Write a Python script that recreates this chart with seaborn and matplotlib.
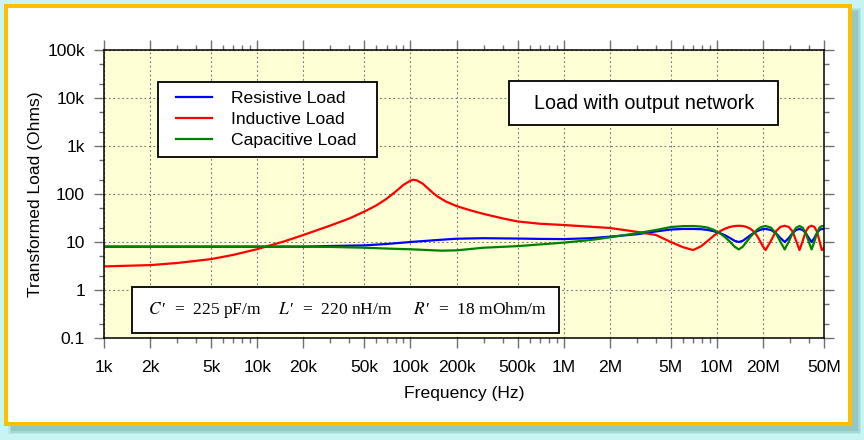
import matplotlib
matplotlib.use("Agg")
import matplotlib.pyplot as plt
import seaborn as sns
import pandas as pd
from matplotlib.patches import Rectangle
from matplotlib.ticker import FixedLocator, FixedFormatter, NullFormatter

# ---------------- data ----------------
freq_res = [1e3, 1e4, 2e4, 3e4, 5e4, 7e4, 1e5, 1.5e5, 2e5, 3e5, 5e5, 7e5, 1e6, 1.5e6, 2e6,
            3e6, 4e6, 5e6, 6e6,
            7.0e6, 7.86e6, 8.73e6, 9.59e6, 10.45e6, 11.31e6, 12.18e6, 13.04e6, 13.9e6,
            14.76e6, 15.63e6, 16.49e6, 17.35e6, 18.21e6, 19.08e6, 19.94e6, 20.8e6,
            22.53e6, 24.25e6, 25.98e6, 27.7e6, 29.43e6, 31.15e6, 32.88e6, 34.6e6,
            36.33e6, 38.05e6, 39.78e6, 41.5e6, 43.23e6, 44.95e6, 46.68e6, 48.4e6, 50e6]
load_res = [8.0, 8.0, 8.0, 8.25, 8.5, 9.1, 10.0, 11.0, 11.7, 12.0, 11.8, 11.6, 11.5, 12.0, 12.9,
            14.5, 16.6, 18.2, 18.7,
            18.7, 18.5, 17.8, 16.7, 15.3, 13.8, 12.1, 10.6, 10.0,
            10.6, 12.1, 13.8, 15.3, 16.7, 17.8, 18.5, 18.7,
            17.8, 15.3, 12.1, 10.0, 12.1, 15.3, 17.8, 18.7,
            17.8, 15.3, 12.1, 10.0, 12.1, 15.3, 17.8, 18.7, 18.5]

freq_ind = [1e3, 2e3, 3e3, 5e3, 7e3, 1e4, 1.5e4, 2e4, 3e4, 4e4, 5e4, 6e4, 7e4, 8e4, 9e4,
            1e5, 1.05e5, 1.1e5, 1.2e5, 1.3e5, 1.4e5, 1.5e5, 1.7e5, 2e5, 2.5e5, 3e5, 4e5,
            5e5, 7e5, 1e6, 2e6, 3e6, 4e6, 5e6, 6e6,
            7.0e6, 7.86e6, 8.73e6, 9.59e6, 10.45e6, 11.31e6, 12.18e6, 13.04e6, 13.9e6,
            14.76e6, 15.63e6, 16.49e6, 17.35e6, 18.21e6, 19.08e6, 19.94e6, 20.8e6,
            22.53e6, 24.25e6, 25.98e6, 27.7e6, 29.43e6, 31.15e6, 32.88e6, 34.6e6,
            36.33e6, 38.05e6, 39.78e6, 41.5e6, 43.23e6, 44.95e6, 46.68e6, 48.4e6, 50e6]
load_ind = [3.1, 3.3, 3.65, 4.4, 5.4, 7.1, 10.3, 14.0, 22.0, 31.0, 43.0, 58.0, 80.0, 112.0, 155.0,
            190.0, 198.0, 192.0, 165.0, 131.0, 106.0, 89.0, 70.0, 56.0, 45.0, 38.5, 31.0,
            26.8, 24.0, 22.6, 19.6, 16.3, 14.0, 10.0, 7.8,
            6.8, 8.1, 10.6, 13.7, 16.7, 19.0, 20.6, 21.5, 21.8,
            21.5, 20.6, 19.0, 16.7, 13.7, 10.6, 8.1, 6.8,
            10.6, 16.7, 20.6, 21.8, 20.6, 16.7, 10.6, 6.8,
            10.6, 16.7, 20.6, 21.8, 20.6, 16.7, 10.6, 6.8, 7.6]

freq_cap = [1e3, 1e4, 2e4, 3e4, 5e4, 7e4, 1e5, 1.6e5, 2e5, 3e5, 5e5, 7e5, 1e6, 1.5e6, 2e6,
            3e6, 4e6, 5e6, 6e6,
            7.0e6, 7.86e6, 8.73e6, 9.59e6, 10.45e6, 11.31e6, 12.18e6, 13.04e6, 13.9e6,
            14.76e6, 15.63e6, 16.49e6, 17.35e6, 18.21e6, 19.08e6, 19.94e6, 20.8e6,
            22.53e6, 24.25e6, 25.98e6, 27.7e6, 29.43e6, 31.15e6, 32.88e6, 34.6e6,
            36.33e6, 38.05e6, 39.78e6, 41.5e6, 43.23e6, 44.95e6, 46.68e6, 48.4e6, 50e6]
load_cap = [8.0, 8.0, 8.0, 7.9, 7.6, 7.3, 7.05, 6.6, 6.7, 7.6, 8.2, 8.9, 9.7, 11.0, 12.5,
            15.2, 17.8, 20.5, 21.4,
            21.5, 21.0, 19.9, 17.8, 15.2, 12.6, 10.1, 8.0, 7.0,
            8.0, 10.1, 12.6, 15.2, 17.8, 19.9, 21.0, 21.5,
            19.9, 15.2, 10.1, 7.0, 10.1, 15.2, 19.9, 21.5,
            19.9, 15.2, 10.1, 7.0, 10.1, 15.2, 19.9, 21.5, 21.2]

series_names = ["Resistive Load", "Inductive Load", "Capacitive Load"]
series_colors = ["#0000ff", "#ff0000", "#008000"]

x_ticks = [1e3, 2e3, 5e3, 1e4, 2e4, 5e4, 1e5, 2e5, 5e5, 1e6, 2e6, 5e6, 1e7, 2e7, 5e7]
x_labels = ["1k", "2k", "5k", "10k", "20k", "50k", "100k", "200k", "500k",
            "1M", "2M", "5M", "10M", "20M", "50M"]
y_ticks = [0.1, 1, 10, 100, 1e3, 1e4, 1e5]
y_labels = ["0.1", "1", "10", "100", "1k", "10k", "100k"]

# ---------------- figure ----------------
plt.rcParams["font.family"] = ["Liberation Sans", "DejaVu Sans"]
plt.rcParams["mathtext.fontset"] = "stix"

W, H = 864, 440
fig = plt.figure(figsize=(W / 100, H / 100), dpi=100, facecolor="#c8f4f4")


def fx(px):
    return px / W


def fy(py):
    return 1 - py / H


def frect(x0, y0, x1, y1, **kw):
    return Rectangle((fx(x0), fy(y1)), fx(x1) - fx(x0), fy(y0) - fy(y1),
                     transform=fig.transFigure, **kw)


# soft shadow + orange frame
for grow, a in [(3, 0.25), (1.5, 0.45), (0, 0.9)]:
    fig.patches.append(frect(11 - grow, 11 - grow, 858 + grow, 431 + grow,
                             facecolor="#8fc6c6", edgecolor="none", alpha=a, zorder=-20))
fig.patches.append(frect(6, 6, 850.3, 424, facecolor="white", edgecolor="#ffbf00",
                         linewidth=4 * 0.72, zorder=-10))

AX_L, AX_R, AX_T, AX_B = 104, 824, 50, 338
ax = fig.add_axes([fx(AX_L), fy(AX_B), (AX_R - AX_L) / W, (AX_B - AX_T) / H])
ax.set_facecolor("#ffffd6")

df = pd.concat([
    pd.DataFrame({"freq": freq_res, "load": load_res, "series": series_names[0]}),
    pd.DataFrame({"freq": freq_ind, "load": load_ind, "series": series_names[1]}),
    pd.DataFrame({"freq": freq_cap, "load": load_cap, "series": series_names[2]}),
], ignore_index=True)

sns.lineplot(data=df, x="freq", y="load", hue="series", hue_order=series_names,
             palette=dict(zip(series_names, series_colors)), estimator=None,
             sort=False, linewidth=1.6, ax=ax, zorder=3)

ax.set_xscale("log")
ax.set_yscale("log")
ax.set_xlim(1e3, 5e7)
ax.set_ylim(0.1, 1e5)

ax.xaxis.set_major_locator(FixedLocator(x_ticks))
ax.xaxis.set_major_formatter(FixedFormatter(x_labels))
x_minor = [m * 10 ** e for e in range(3, 8) for m in (3, 4, 6, 7, 8, 9) if m * 10 ** e < 5e7]
ax.xaxis.set_minor_locator(FixedLocator(x_minor))
ax.xaxis.set_minor_formatter(NullFormatter())
ax.yaxis.set_major_locator(FixedLocator(y_ticks))
ax.yaxis.set_major_formatter(FixedFormatter(y_labels))
y_minor = [m * 10.0 ** e for e in range(-1, 5) for m in (2, 5)]
ax.yaxis.set_minor_locator(FixedLocator(y_minor))
ax.yaxis.set_minor_formatter(NullFormatter())

ax.tick_params(which="both", direction="out", top=True, right=True,
               color="#707070", width=1.0)
ax.tick_params(which="major", length=7.2, labelsize=12.6)
ax.tick_params(which="minor", length=3.6)
ax.tick_params(axis="x", which="major", pad=8.5)
ax.tick_params(axis="y", which="major", pad=6.5)

ax.grid(True, which="major", color="#707070", linestyle=(0, (1.5, 2.5)), linewidth=0.8)
ax.set_axisbelow(True)
for s in ax.spines.values():
    s.set_linewidth(1.1)
    s.set_color("black")
    s.set_zorder(4)

ax.set_xlabel("Frequency (Hz)", fontsize=12.6)
ax.set_ylabel("Transformed Load (Ohms)", fontsize=12.6)
ax.xaxis.set_label_coords(0.5, (AX_B - 386) / 288)
ax.yaxis.set_label_coords((43 - AX_L) / 720, 0.5)


def ax_pt(px, py):
    return ((px - AX_L) / (AX_R - AX_L), (AX_B - py) / (AX_B - AX_T))


def arect(x0, y0, x1, y1, **kw):
    (ax0, ay1), (ax1, ay0) = ax_pt(x0, y1), ax_pt(x1, y0)
    return Rectangle((ax0, ay1), ax1 - ax0, ay0 - ay1, transform=ax.transAxes, **kw)


# legend
handles, labels = ax.get_legend_handles_labels()
ax.add_patch(arect(158.3, 82.3, 376.7, 156.7, facecolor="white", edgecolor="black",
                   linewidth=1.3, zorder=5))
leg = ax.legend(handles, labels, loc="upper left", bbox_to_anchor=ax_pt(176, 91.2),
                frameon=False, fontsize=12.6, borderpad=0, borderaxespad=0,
                handlelength=2.07, handletextpad=1.1, labelspacing=0.31)
leg.set_zorder(6)
for line in leg.get_lines():
    line.set_linewidth(1.6)

# title box
ax.add_patch(arect(509.3, 81, 778.3, 125, facecolor="white", edgecolor="black",
                   linewidth=1.3, zorder=5))
ax.text(*ax_pt(643.8, 103.5), "Load with output network", transform=ax.transAxes,
        ha="center", va="center", fontsize=14.2, zorder=6)

# parameter box
ax.add_patch(arect(132.3, 287.3, 558.7, 332.7, facecolor="white", edgecolor="black",
                   linewidth=1.3, zorder=5))
for px, sym, rest in [(148, "C", "  =  225 pF/m"), (278, "L", "  =  220 nH/m"),
                      (413, "R", "  =  18 mOhm/m")]:
    ax.text(*ax_pt(px, 310.5), "$" + sym + r"\,$" + "\u2032" + rest, transform=ax.transAxes,
            ha="left", va="center", fontsize=12.5,
            family=["Liberation Serif", "DejaVu Serif"], zorder=6)

fig.savefig("out.png", dpi=100, facecolor=fig.get_facecolor())
